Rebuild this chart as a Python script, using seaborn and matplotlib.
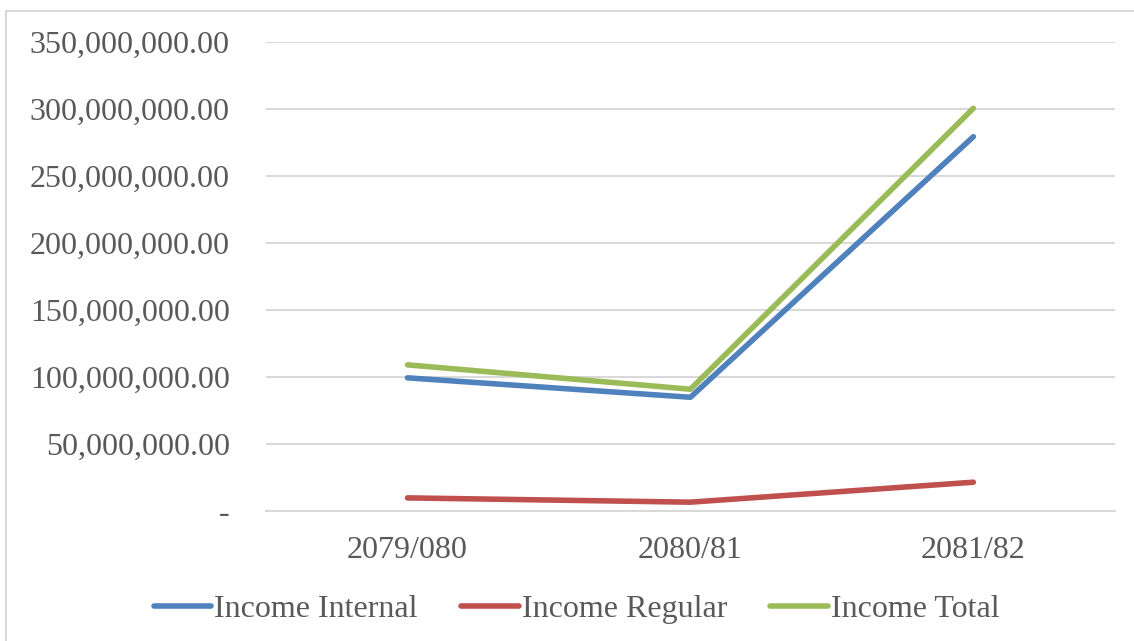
import matplotlib
matplotlib.use("Agg")
import matplotlib.pyplot as plt
import matplotlib.ticker as mticker
import pandas as pd
import seaborn as sns

# values
years = ["2079/080", "2080/81", "2081/82"]
income_internal = [99300000, 84800000, 279300000]
income_regular = [9700000, 6500000, 21400000]
income_total = [109000000, 90800000, 300500000]

series_names = ["Income Internal", "Income Regular", "Income Total"]
colors = ["#4F81BD", "#C0504D", "#9BBB59"]

df = pd.DataFrame({
    "Year": years * 3,
    "Value": income_internal + income_regular + income_total,
    "Series": [s for s in series_names for _ in years],
})

sns.set_style("white")
plt.rcParams["font.family"] = ["Liberation Serif", "DejaVu Serif"]

fig = plt.figure(figsize=(11.34, 6.41), dpi=100)
ax = fig.add_axes([0.2346, 0.203, 0.7485, 0.7315])

sns.lineplot(data=df, x="Year", y="Value", hue="Series", palette=colors,
             linewidth=4, sort=False, ax=ax, legend=True)
for line in ax.get_lines():
    line.set_solid_capstyle("round")
    line.set_solid_joinstyle("round")

ax.set_xlim(-0.5, 2.5)
ax.set_ylim(0, 350000000)
ax.set_yticks(range(0, 350000001, 50000000))


def fmt(v, pos):
    if v == 0:
        return "-"
    return f"{v:,.2f}"


ax.yaxis.set_major_formatter(mticker.FuncFormatter(fmt))
ax.grid(axis="y", color="#D9D9D9", linewidth=1.5)
ax.set_axisbelow(True)
for s in ["left", "right", "top"]:
    ax.spines[s].set_visible(False)
ax.spines["bottom"].set_color("#D9D9D9")
ax.spines["bottom"].set_linewidth(1.5)

ax.tick_params(axis="y", labelsize=23, colors="#595959", length=0, pad=26)
ax.tick_params(axis="x", labelsize=23, colors="#595959", length=0, pad=18)
ax.set_xlabel("")
ax.set_ylabel("")

handles, labels = ax.get_legend_handles_labels()
ax.legend(handles, labels, loc="center", bbox_to_anchor=(0.366, -0.21),
          ncol=3, frameon=False, fontsize=23, labelcolor="#595959",
          handlelength=1.8, handletextpad=0.1, columnspacing=1.35)

# light outer chart border like the Excel frame
fig.patches.append(plt.Rectangle((0.0055, -0.01), 1.1, 0.993, transform=fig.transFigure,
                                 fill=False, edgecolor="#D9D9D9", linewidth=1.5))

fig.savefig("out.png", dpi=100)
